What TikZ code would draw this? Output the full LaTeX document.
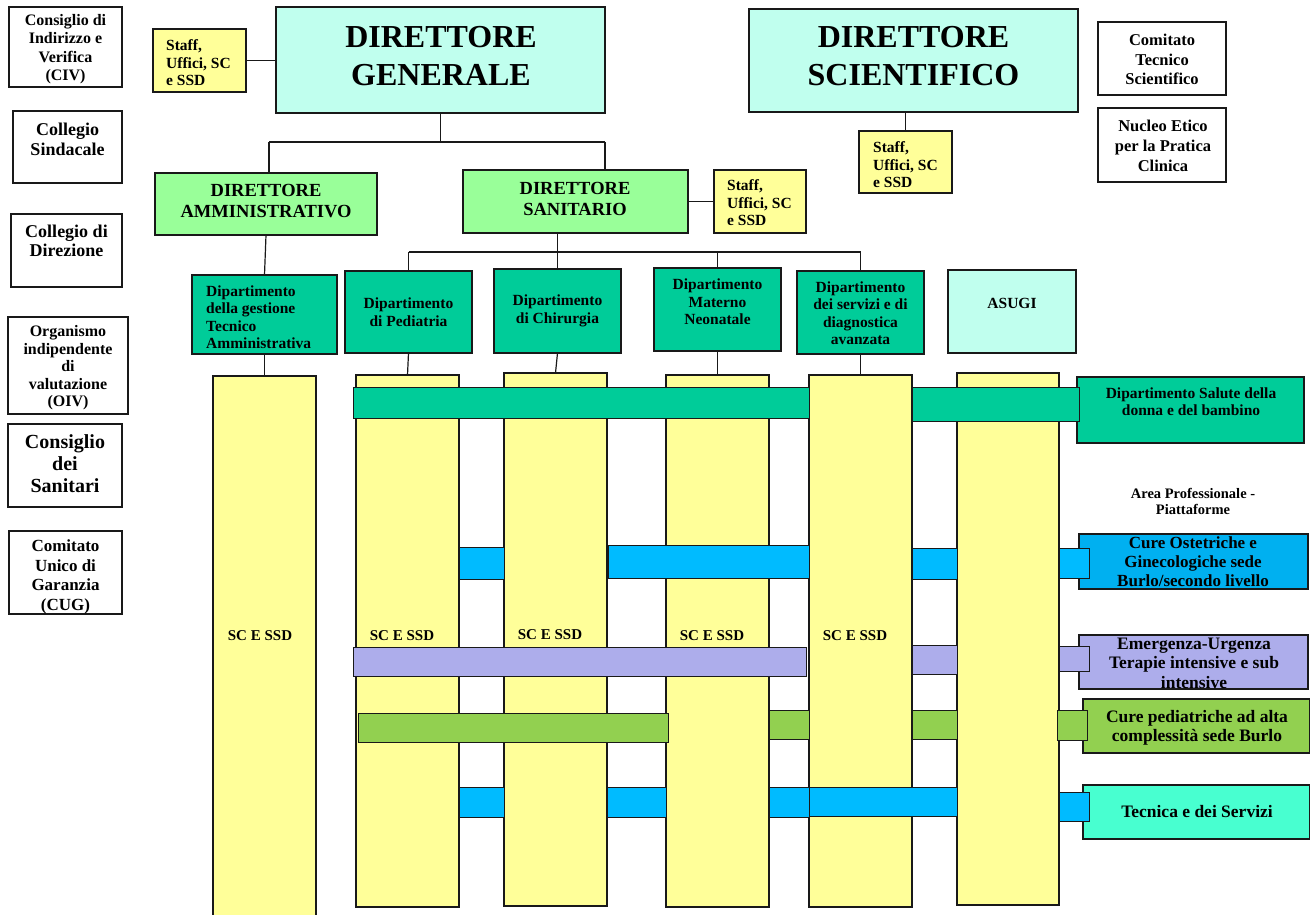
\documentclass[tikz,border=0pt]{standalone}
\usepackage{fontspec}
\setmainfont{Liberation Serif}
\newcommand\myfs[2]{\fontsize{#1}{#2}\selectfont\bfseries}
\definecolor{yel}{HTML}{FFFF99}
\definecolor{cyl}{HTML}{C0FFEE}
\definecolor{lgr}{HTML}{99FF99}
\definecolor{teal}{HTML}{00CC99}
\definecolor{blb}{HTML}{00BBFF}
\definecolor{blx}{HTML}{00B0F0}
\definecolor{lav}{HTML}{ADADEB}
\definecolor{grn}{HTML}{92D050}
\definecolor{aqu}{HTML}{48FFD0}
\begin{document}
\begin{tikzpicture}[x=1pt,y=-1pt,
  bx/.style={draw=black!90, line width=1.2pt, anchor=north west, inner sep=0pt, outer sep=0pt},
  tx/.style={inner sep=0pt, align=center},
  ln/.style={line width=1.2pt, draw=black!90},
  col/.style={bx, fill=yel},
  band/.style={bx, line width=1pt}]
\useasboundingbox (0,0) rectangle (1310,915);
\clip (0,0) rectangle (1310,915);
% left column boxes
\node[bx, fill=white, minimum width=113pt, minimum height=80pt] (civ) at (9,7) {};
\node[tx, font=\myfs{16}{18.5}] (civt) at (65.5,49) {Consiglio di\\Indirizzo e\\Verifica\\(CIV)};
\node[bx, fill=white, minimum width=109pt, minimum height=72pt] (sind) at (13,111) {};
\node[tx, font=\myfs{18}{20}] (sindt) at (67.5,139) {Collegio\\Sindacale};
\node[bx, fill=white, minimum width=111pt, minimum height=73pt] (dire) at (11,214) {};
\node[tx, font=\myfs{18}{19.5}] (diret) at (66.5,241) {Collegio di\\Direzione};
\node[bx, fill=white, minimum width=120pt, minimum height=97pt] (oiv) at (8,317) {};
\node[tx, font=\myfs{16}{17.5}] (oivt) at (68,368) {Organismo\\indipendente\\di\\valutazione\\(OIV)};
\node[bx, fill=white, minimum width=114pt, minimum height=83pt] (csan) at (8,424) {};
\node[tx, font=\myfs{20}{22}] (csant) at (65,464) {Consiglio\\dei\\Sanitari};
\node[bx, fill=white, minimum width=113pt, minimum height=83pt] (cug) at (9,531) {};
\node[tx, font=\myfs{17}{19.5}] (cugt) at (65.5,577) {Comitato\\Unico di\\Garanzia\\(CUG)};
% top row
\node[bx, fill=yel, minimum width=93pt, minimum height=63pt] (stfG) at (153,29) {};
\node[tx, align=left, anchor=west, font=\myfs{15.5}{17.5}] (stfGt) at (166,63) {Staff,\\Uffici, SC\\e SSD};
\node[bx, fill=cyl, minimum width=329pt, minimum height=106pt] (dg) at (276,7) {};
\node[tx, font=\myfs{32}{38}] (dgt) at (441,56) {DIRETTORE\\GENERALE};
\node[bx, fill=cyl, minimum width=329pt, minimum height=103pt] (ds) at (749,9) {};
\node[tx, font=\myfs{32}{38}] (dst) at (913.5,56) {DIRETTORE\\SCIENTIFICO};
\node[bx, fill=white, minimum width=128pt, minimum height=73pt] (cts) at (1098,22) {};
\node[tx, font=\myfs{16.5}{19.5}] (ctst) at (1162,59.5) {Comitato\\Tecnico\\Scientifico};
\node[bx, fill=white, minimum width=128pt, minimum height=74pt] (net) at (1098,108) {};
\node[tx, font=\myfs{16.5}{20}] (nett) at (1163,146) {Nucleo Etico\\per la Pratica\\Clinica};
\node[bx, fill=yel, minimum width=93pt, minimum height=62pt] (stfS) at (859,131) {};
\node[tx, align=left, anchor=west, font=\myfs{15.5}{17.5}] (stfSt) at (873,165) {Staff,\\Uffici, SC\\e SSD};
% directors
\node[bx, fill=lgr, minimum width=222pt, minimum height=62pt] (da) at (155,173) {};
\node[tx, font=\myfs{18.5}{21}] (dat) at (266,201.5) {DIRETTORE\\AMMINISTRATIVO};
\node[bx, fill=lgr, minimum width=225pt, minimum height=63pt] (dsan) at (463,170) {};
\node[tx, font=\myfs{18.5}{21}] (dsant) at (575,198.5) {DIRETTORE\\SANITARIO};
\node[bx, fill=yel, minimum width=92pt, minimum height=63pt] (stfD) at (714,170) {};
\node[tx, align=left, anchor=west, font=\myfs{15.5}{17.5}] (stfDt) at (727,203) {Staff,\\Uffici, SC\\e SSD};
% departments
\node[bx, fill=teal, minimum width=145pt, minimum height=79pt] (gest) at (192,275) {};
\node[tx, align=left, anchor=west, font=\myfs{15.5}{17.5}] (gestt) at (206,317) {Dipartimento\\della gestione\\Tecnico\\Amministrativa};
\node[bx, fill=teal, minimum width=127pt, minimum height=82pt] (ped) at (345,271) {};
\node[tx, font=\myfs{15.5}{17.5}] (pedt) at (408.5,312) {Dipartimento\\di Pediatria};
\node[bx, fill=teal, minimum width=127pt, minimum height=84pt] (chir) at (494,269) {};
\node[tx, font=\myfs{15.5}{17.5}] (chirt) at (557.5,311) {Dipartimento\\di Chirurgia};
\node[bx, fill=teal, minimum width=127pt, minimum height=83pt] (mat) at (654,268) {};
\node[tx, font=\myfs{15.5}{17.5}] (matt) at (717.5,302) {Dipartimento\\Materno\\Neonatale};
\node[bx, fill=teal, minimum width=127pt, minimum height=83pt] (serv) at (797,271) {};
\node[tx, font=\myfs{15.5}{17.5}] (servt) at (860.5,313) {Dipartimento\\dei servizi e di\\diagnostica\\avanzata};
\node[bx, fill=cyl, minimum width=128pt, minimum height=83pt] (asugi) at (948,270) {};
\node[tx, font=\myfs{15.5}{17.5}] (asugit) at (1012,303) {ASUGI};
% connectors top
\coordinate (jA) at (269,142);
\coordinate (jB) at (605,142);
\draw[ln] (stfG.east) -- (stfG.east -| dg.west);
\draw[ln] (dg.south) -- (dg.south |- jA);
\draw[ln] (jA) -- (jB);
\draw[ln] (jA) -- (jA |- da.north);
\draw[ln] (jB) -- (jB |- dsan.north);
\draw[ln] (stfS.north |- ds.south) -- (stfS.north);
\draw[ln] (dsan.east) -- (stfD.west);
\coordinate (busy) at (0,252);
\draw[ln] (ped.north |- busy) -- (serv.north |- busy);
\draw[ln] (dsan.south -| chir.north) -- (chir.north);
\draw[ln] (ped.north |- busy) -- (ped.north);
\draw[ln] (mat.north |- busy) -- (mat.north);
\draw[ln] (serv.north |- busy) -- (serv.north);
\draw[ln] (da.south) -- (gest.north);
% columns
\node[col, minimum width=103pt, minimum height=560pt] (gcol) at (213,376) {};
\node[col, minimum width=103pt, minimum height=532pt] (pcol) at (356,375) {};
\node[col, minimum width=103pt, minimum height=533pt] (ccol) at (504,373) {};
\node[col, minimum width=103pt, minimum height=532pt] (mcol) at (666,375) {};
\node[col, minimum width=103pt, minimum height=532pt] (scol) at (809,375) {};
\node[col, minimum width=102pt, minimum height=532pt] (acol) at (957,373) {};
\draw[ln] (gest.south) -- (gcol.north);
\draw[ln] (ped.south) -- (pcol.north);
\draw[ln] (chir.south) -- (ccol.north);
\draw[ln] (mat.south) -- (mcol.north);
\draw[ln] (serv.south) -- (scol.north);
\node[tx, font=\myfs{15}{17}] (gl) at (260,636) {SC E SSD};
\node[tx, font=\myfs{15}{17}] (pl) at (402,636) {SC E SSD};
\node[tx, font=\myfs{15}{17}] (cl) at (550,635) {SC E SSD};
\node[tx, font=\myfs{15}{17}] (ml) at (712,636) {SC E SSD};
\node[tx, font=\myfs{15}{17}] (sl) at (855,636) {SC E SSD};
% right boxes
\node[bx, fill=teal, minimum width=227pt, minimum height=66pt] (sal) at (1077,377) {};
\node[tx, font=\myfs{15.5}{17}] (salt) at (1191,401.5) {Dipartimento Salute della\\donna e del bambino};
\node[tx, font=\myfs{14.5}{16}] (area) at (1193,501) {Area Professionale -\\Piattaforme};
\node[bx, fill=blx, minimum width=229pt, minimum height=55pt] (cos) at (1079,534) {};
\node[tx, font=\myfs{17}{19}] (cost) at (1193,562) {Cure Ostetriche e\\Ginecologiche sede\\Burlo/secondo livello};
\node[bx, fill=lav, minimum width=229pt, minimum height=54pt] (emu) at (1079,635) {};
\node[tx, font=\myfs{17.5}{19.5}] (emut) at (1194,663) {Emergenza-Urgenza\\Terapie intensive e sub\\intensive};
\node[bx, fill=grn, minimum width=227pt, minimum height=54pt] (cped) at (1083,699) {};
\node[tx, font=\myfs{17.5}{19}] (cpedt) at (1197,727.5) {Cure pediatriche ad alta\\complessit\`a sede Burlo};
\node[bx, fill=aqu, minimum width=227pt, minimum height=54pt] (tec) at (1083,785) {};
\node[tx, font=\myfs{17.5}{19}] (tect) at (1197,812) {Tecnica e dei Servizi};
% teal bands
\node[band, fill=teal, minimum width=456pt, minimum height=31pt] (t1) at (353,387) {};
\node[band, fill=teal, minimum width=167pt, minimum height=34pt] (t2) at (912,387) {};
% blue bands
\node[band, fill=blb, minimum width=45pt, minimum height=32pt] (b1) at (459,547) {};
\node[band, fill=blb, minimum width=201pt, minimum height=33pt] (b2) at (608,545) {};
\node[band, fill=blb, minimum width=45pt, minimum height=31pt] (b3) at (912,548) {};
\node[band, fill=blb, minimum width=30pt, minimum height=30pt] (b4) at (1059,548) {};
% lavender bands
\node[band, fill=lav, minimum width=453pt, minimum height=29pt] (v1) at (353,647) {};
\node[band, fill=lav, minimum width=45pt, minimum height=29pt] (v2) at (912,645) {};
\node[band, fill=lav, minimum width=30pt, minimum height=25pt] (v3) at (1059,646) {};
% green bands
\node[band, fill=grn, minimum width=310pt, minimum height=29pt] (g1) at (358,713) {};
\node[band, fill=grn, minimum width=40pt, minimum height=29pt] (g2) at (769,710) {};
\node[band, fill=grn, minimum width=45pt, minimum height=29pt] (g3) at (912,710) {};
\node[band, fill=grn, minimum width=30pt, minimum height=30pt] (g4) at (1057,710) {};
% lower blue bands
\node[band, fill=blb, minimum width=45pt, minimum height=30pt] (c1) at (459,787) {};
\node[band, fill=blb, minimum width=59pt, minimum height=30pt] (c2) at (607,787) {};
\node[band, fill=blb, minimum width=40pt, minimum height=30pt] (c3) at (769,787) {};
\node[band, fill=blb, minimum width=148pt, minimum height=29pt] (c4) at (809,787) {};
\node[band, fill=blb, minimum width=30pt, minimum height=29pt] (c5) at (1059,792) {};
\end{tikzpicture}
\end{document}
